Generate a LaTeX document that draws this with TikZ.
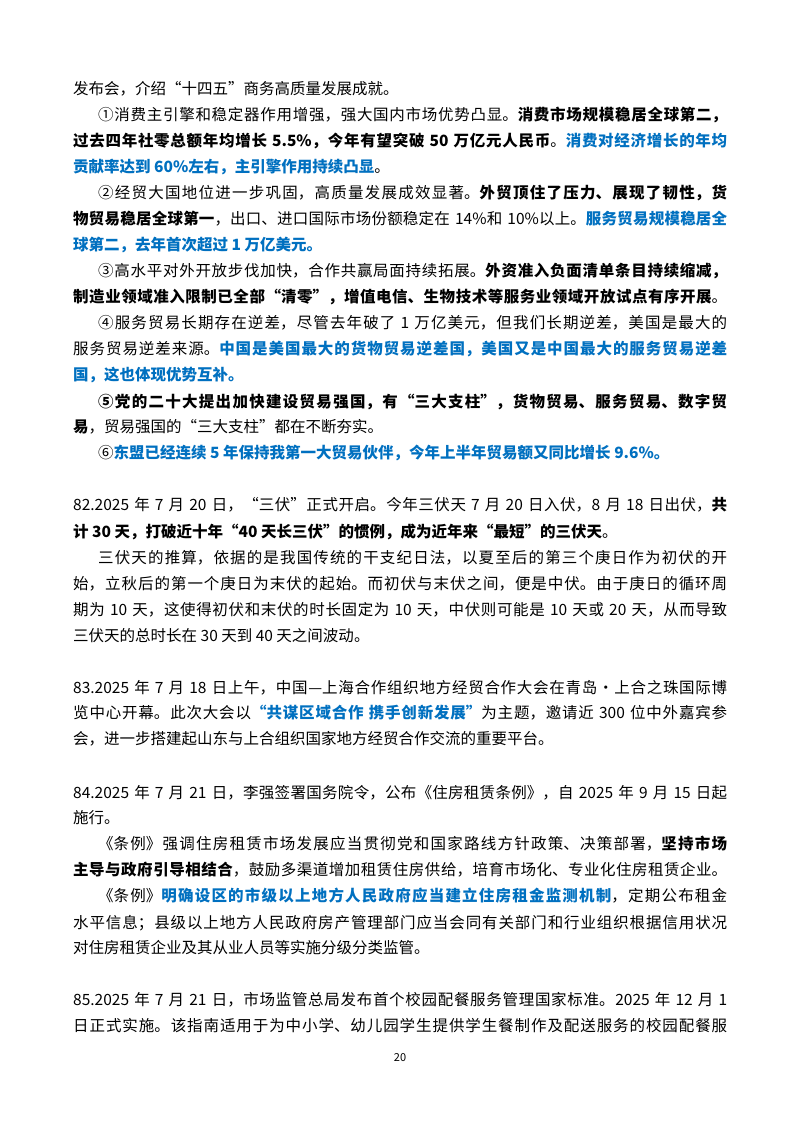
\documentclass[tikz,border=0pt]{standalone}
\usepackage{fontspec}
\setmainfont{Noto Sans CJK SC}
\XeTeXlinebreaklocale "zh"
\XeTeXlinebreakskip=0pt plus 1fil minus 1.2pt
\definecolor{hl}{RGB}{0,112,192}
\newcommand{\B}[1]{\textbf{#1}}
\newcommand{\C}[1]{\textbf{\color{hl}#1}}
\tikzset{
  ln/.style={anchor=west,inner sep=0pt,font=\fontsize{15.5bp}{20bp}\selectfont},
  jl/.style={ln,execute at begin node={\parindent=0pt\parfillskip=0pt\tolerance=10000\linepenalty=9000\relax}},
  fa/.style={jl,text width=654bp},
  fb/.style={jl,text width=629bp}
}
\begin{document}
\begin{tikzpicture}[x=1bp,y=-1bp]
\useasboundingbox[fill=white] (0,0) rectangle (800,1132);
\node[ln] (n1) at (73,89) {发布会，介绍“十四五”商务高质量发展成就。};
\node[fb] (n2) at (98,115) {①消费主引擎和稳定器作用增强，强大国内市场优势凸显。\B{消费市场规模稳居全球第二，}};
\node[fa] (n3) at (73,141) {\B{过去四年社零总额年均增长 5.5\%，今年有望突破 50 万亿元人民币}。\C{消费对经济增长的年均}};
\node[ln] (n4) at (73,167) {\C{贡献率达到 60\%左右，主引擎作用持续凸显}。};
\node[fb] (n5) at (98,193) {②经贸大国地位进一步巩固，高质量发展成效显著。\B{外贸顶住了压力、展现了韧性，货}};
\node[fa] (n6) at (73,219) {\B{物贸易稳居全球第一}，出口、进口国际市场份额稳定在 14\%和 10\%以上。\C{服务贸易规模稳居全}};
\node[ln] (n7) at (73,245) {\C{球第二，去年首次超过 1 万亿美元。}};
\node[fb] (n8) at (98,271) {③高水平对外开放步伐加快，合作共赢局面持续拓展。\B{外资准入负面清单条目持续缩减，}};
\node[fa] (n9) at (73,297) {\B{制造业领域准入限制已全部“清零”，增值电信、生物技术等服务业领域开放试点有序开展}。};
\node[fb] (n10) at (98,323) {④服务贸易长期存在逆差，尽管去年破了 1 万亿美元，但我们长期逆差，美国是最大的};
\node[fa] (n11) at (73,349) {服务贸易逆差来源。\C{中国是美国最大的货物贸易逆差国，美国又是中国最大的服务贸易逆差}};
\node[ln] (n12) at (73,375) {\C{国，这也体现优势互补。}};
\node[fb] (n13) at (98,402) {\B{⑤党的二十大提出加快建设贸易强国，有“三大支柱”，货物贸易、服务贸易、数字贸}};
\node[ln] (n14) at (73,427) {\B{易}，贸易强国的“三大支柱”都在不断夯实。};
\node[ln] (n15) at (98,453) {⑥\C{东盟已经连续 5 年保持我第一大贸易伙伴，今年上半年贸易额又同比增长 9.6\%。}};
\node[fa] (n16) at (73,505) {82.2025 年 7 月 20 日，“三伏”正式开启。今年三伏天 7 月 20 日入伏，8 月 18 日出伏，\B{共}};
\node[ln] (n17) at (73,532) {\B{计 30 天，打破近十年“40 天长三伏”的惯例，成为近年来“最短”的三伏天}。};
\node[fb] (n18) at (98,558) {三伏天的推算，依据的是我国传统的干支纪日法，以夏至后的第三个庚日作为初伏的开};
\node[fa] (n19) at (73,584) {始，立秋后的第一个庚日为末伏的起始。而初伏与末伏之间，便是中伏。由于庚日的循环周};
\node[fa] (n20) at (73,610) {期为 10 天，这使得初伏和末伏的时长固定为 10 天，中伏则可能是 10 天或 20 天，从而导致};
\node[ln] (n21) at (73,636) {三伏天的总时长在 30 天到 40 天之间波动。};
\node[fa] (n22) at (73,688) {83.2025 年 7 月 18 日上午，中国—上海合作组织地方经贸合作大会在青岛·上合之珠国际博};
\node[fa] (n23) at (73,713) {览中心开幕。此次大会以\C{“共谋区域合作 携手创新发展”}为主题，邀请近 300 位中外嘉宾参};
\node[ln] (n24) at (73,739) {会，进一步搭建起山东与上合组织国家地方经贸合作交流的重要平台。};
\node[fa] (n25) at (73,793) {84.2025 年 7 月 21 日，李强签署国务院令，公布《住房租赁条例》，自 2025 年 9 月 15 日起};
\node[ln] (n26) at (73,818) {施行。};
\node[fb] (n27) at (98,844) {《条例》强调住房租赁市场发展应当贯彻党和国家路线方针政策、决策部署，\B{坚持市场}};
\node[fa] (n28) at (73,870) {\B{主导与政府引导相结合}，鼓励多渠道增加租赁住房供给，培育市场化、专业化住房租赁企业。};
\node[fb] (n29) at (98,896) {《条例》\C{明确设区的市级以上地方人民政府应当建立住房租金监测机制}，定期公布租金};
\node[fa] (n30) at (73,923) {水平信息；县级以上地方人民政府房产管理部门应当会同有关部门和行业组织根据信用状况};
\node[ln] (n31) at (73,948) {对住房租赁企业及其从业人员等实施分级分类监管。};
\node[fa] (n32) at (73,1000) {85.2025 年 7 月 21 日，市场监管总局发布首个校园配餐服务管理国家标准。2025 年 12 月 1};
\node[fa] (n33) at (73,1026) {日正式实施。该指南适用于为中小学、幼儿园学生提供学生餐制作及配送服务的校园配餐服};
\node[inner sep=0pt,font=\fontsize{11bp}{13bp}\selectfont] (pg) at (400,1058) {20};
\end{tikzpicture}
\end{document}
